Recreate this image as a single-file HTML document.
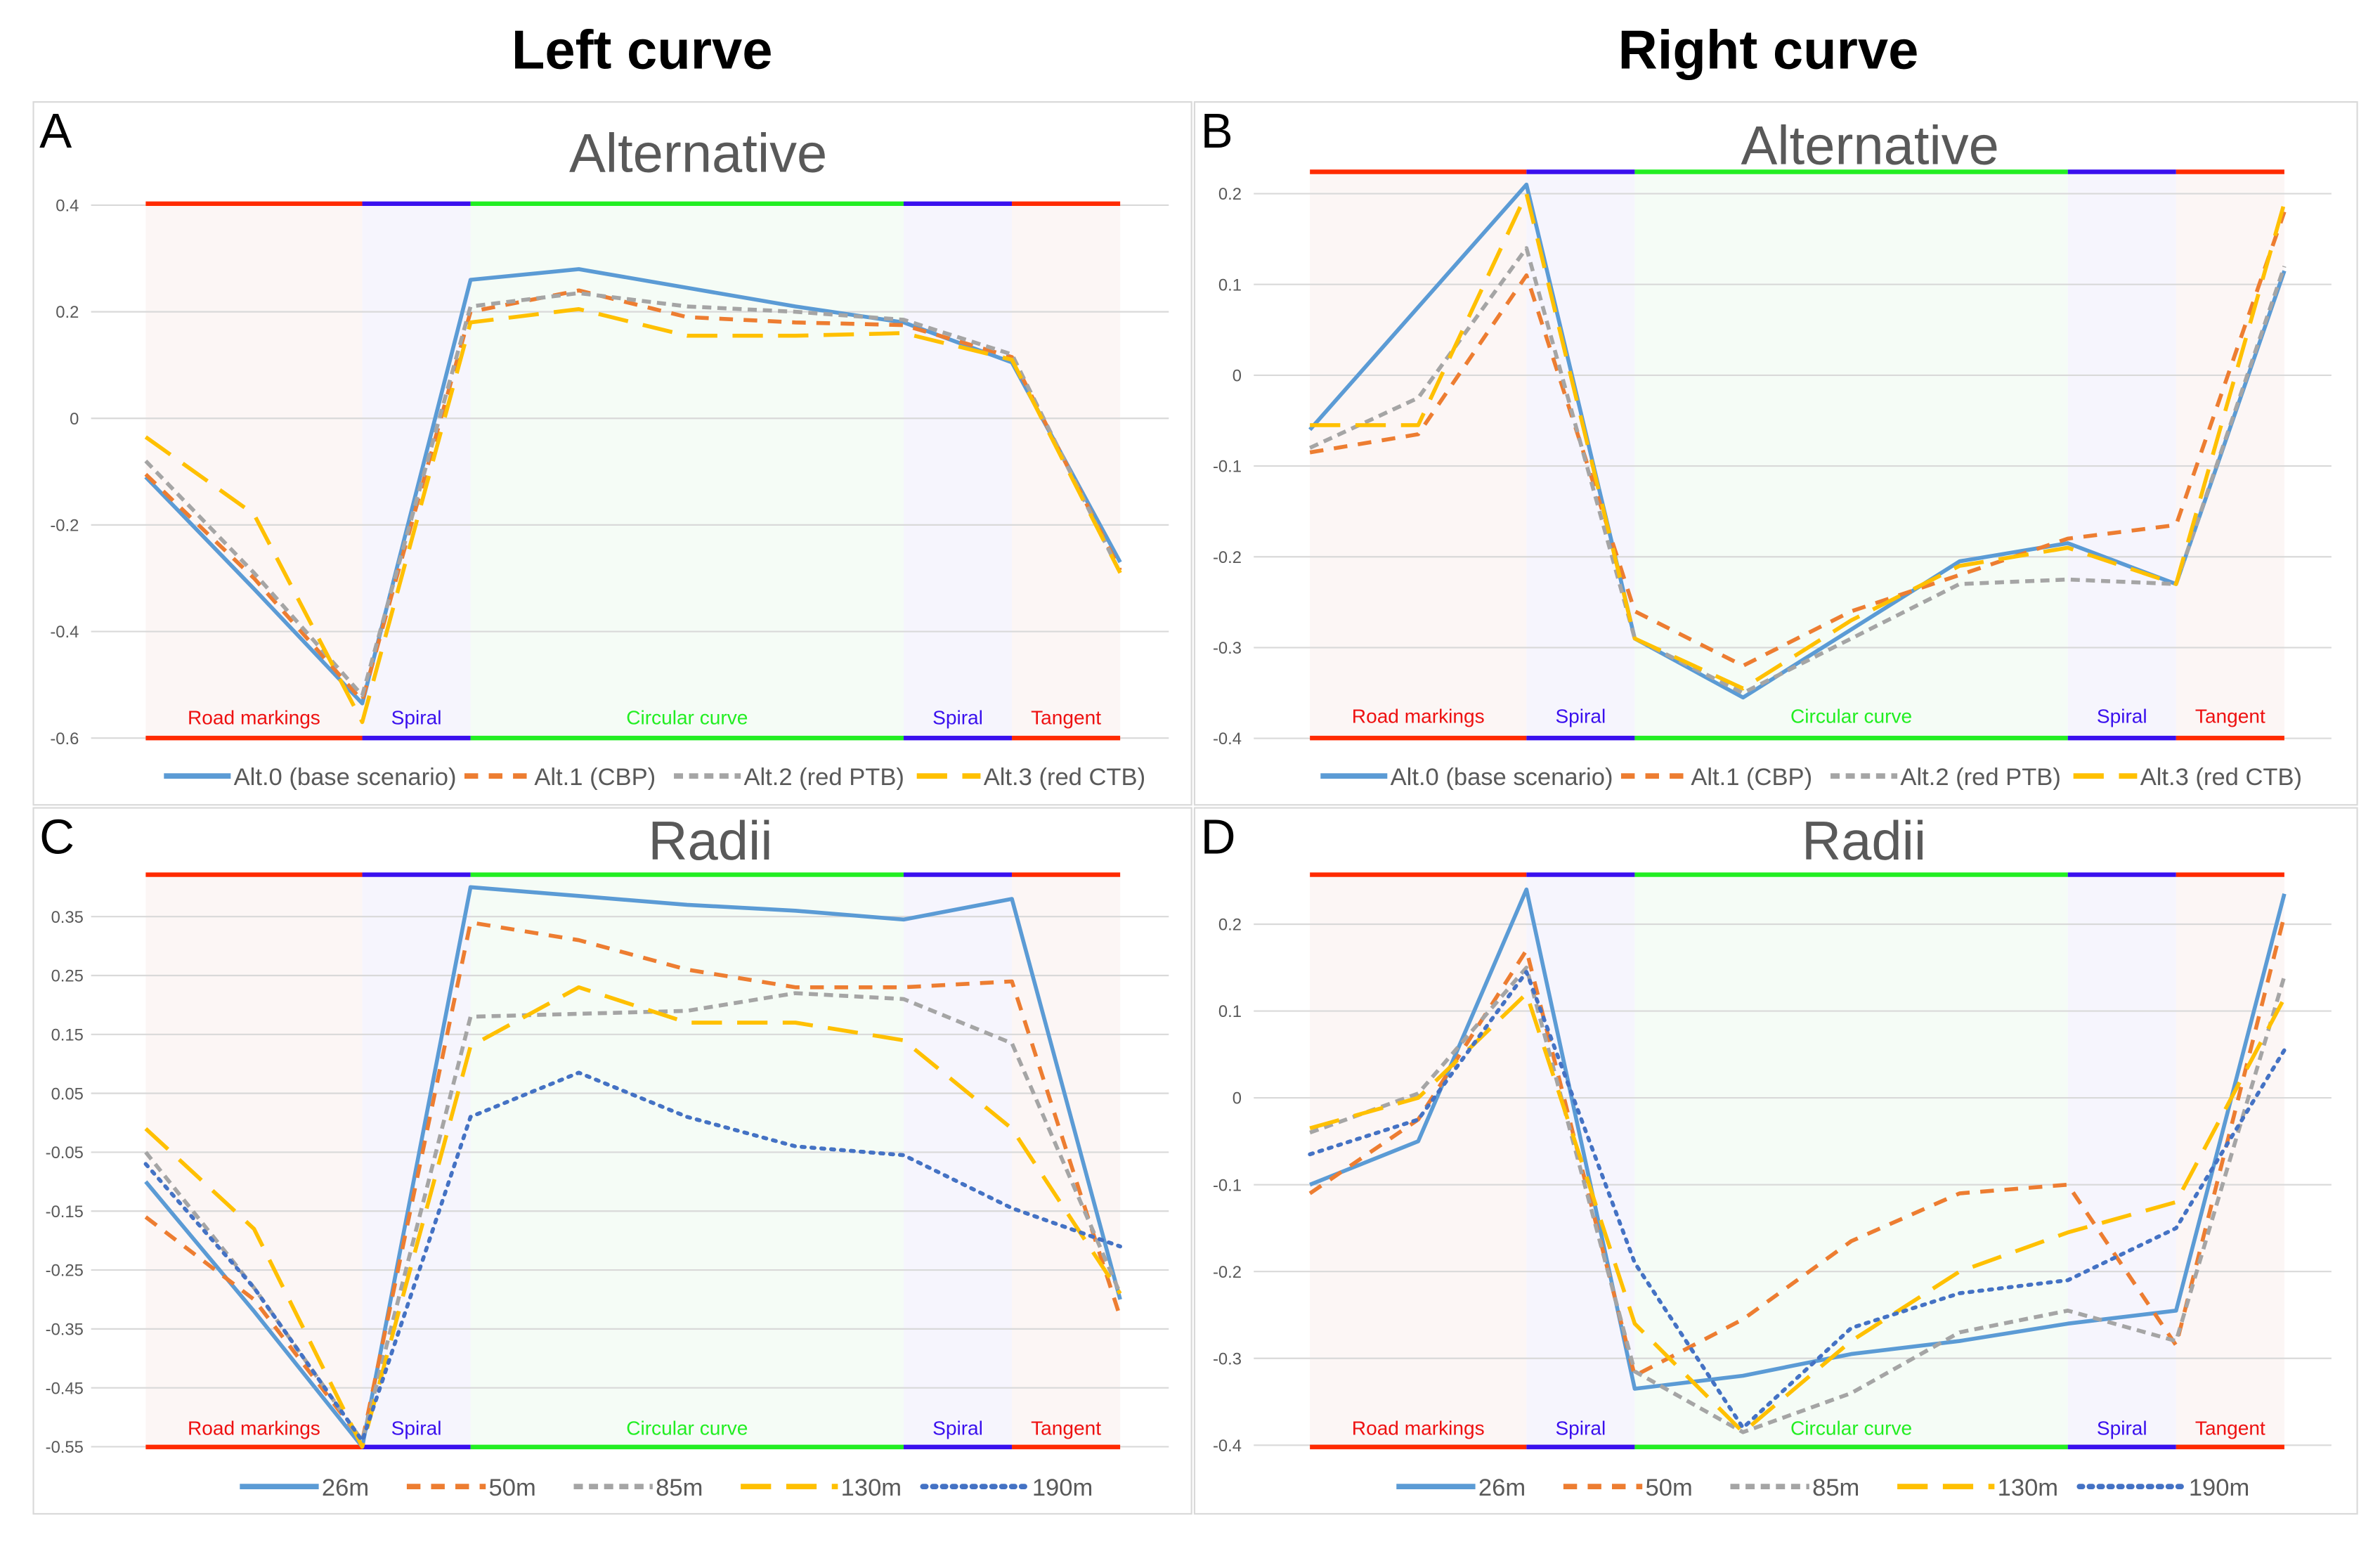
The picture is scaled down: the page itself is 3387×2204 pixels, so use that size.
<!DOCTYPE html>
<html><head><meta charset="utf-8"><style>
html,body{margin:0;padding:0;background:#fff}
svg{display:block}
text{font-family:"Liberation Sans",sans-serif}
</style></head><body>
<svg id="s" width="3387" height="2204" viewBox="0 0 1568 1020" xmlns="http://www.w3.org/2000/svg">
<text x="423" y="45" font-size="36" font-weight="bold" text-anchor="middle">Left curve</text>
<text x="1165" y="45" font-size="36" font-weight="bold" text-anchor="middle">Right curve</text>
</svg>
<script>
const segNames=["Road markings","Spiral","Circular curve","Spiral","Tangent"];
const altNames=["Alt.0 (base scenario)","Alt.1 (CBP)","Alt.2 (red PTB)","Alt.3 (red CTB)"];
const radNames=["26m","50m","85m","130m","190m"];
const ticksA=[0.4,0.2,0,-0.2,-0.4,-0.6];
const ticksB=[0.2,0.1,0,-0.1,-0.2,-0.3,-0.4];
const ticksC=[0.35,0.25,0.15,0.05,-0.05,-0.15,-0.25,-0.35,-0.45,-0.55];
const ticksD=[0.2,0.1,0,-0.1,-0.2,-0.3,-0.4];
const A0=[-0.11,-0.32,-0.535,0.26,0.28,0.245,0.21,0.18,0.105,-0.27];
const A1=[-0.105,-0.30,-0.53,0.20,0.24,0.19,0.18,0.175,0.115,-0.285];
const A2=[-0.08,-0.29,-0.52,0.21,0.235,0.21,0.20,0.185,0.12,-0.29];
const A3=[-0.035,-0.18,-0.57,0.18,0.205,0.155,0.155,0.16,0.11,-0.29];
const B0=[-0.06,0.075,0.21,-0.29,-0.355,-0.28,-0.205,-0.185,-0.23,0.115];
const B1=[-0.085,-0.065,0.11,-0.26,-0.32,-0.26,-0.22,-0.18,-0.165,0.18];
const B2=[-0.08,-0.025,0.14,-0.29,-0.35,-0.29,-0.23,-0.225,-0.23,0.12];
const B3=[-0.055,-0.055,0.20,-0.29,-0.345,-0.27,-0.21,-0.19,-0.23,0.19];
const C0=[-0.10,-0.32,-0.55,0.40,0.385,0.37,0.36,0.345,0.38,-0.30];
const C1=[-0.16,-0.30,-0.54,0.34,0.31,0.26,0.23,0.23,0.24,-0.33];
const C2=[-0.05,-0.28,-0.54,0.18,0.185,0.19,0.22,0.21,0.135,-0.29];
const C3=[-0.01,-0.18,-0.55,0.13,0.23,0.17,0.17,0.14,-0.01,-0.29];
const C4=[-0.07,-0.28,-0.54,0.01,0.085,0.01,-0.04,-0.055,-0.145,-0.21];
const D0=[-0.10,-0.05,0.24,-0.335,-0.32,-0.295,-0.28,-0.26,-0.245,0.235];
const D1=[-0.11,-0.025,0.17,-0.32,-0.255,-0.165,-0.11,-0.10,-0.285,0.21];
const D2=[-0.04,0.005,0.15,-0.315,-0.385,-0.34,-0.27,-0.245,-0.28,0.14];
const D3=[-0.035,0.0,0.12,-0.26,-0.385,-0.28,-0.20,-0.155,-0.12,0.115];
const D4=[-0.065,-0.025,0.145,-0.19,-0.38,-0.265,-0.225,-0.21,-0.15,0.055];

const NS="http://www.w3.org/2000/svg";
const svg=document.getElementById('s');
function mk(tag,attrs,parent,txt){const e=document.createElementNS(NS,tag);for(const k in attrs)e.setAttribute(k,attrs[k]);if(txt!==undefined)e.textContent=txt;(parent||svg).appendChild(e);return e;}
const styles=[
 {c:"#5B9BD5",d:"",w:2.6},
 {c:"#ED7D31",d:"9 7",w:2.6},
 {c:"#A5A5A5",d:"6 4",w:2.6},
 {c:"#FFC000",d:"20 10",w:2.6},
 {c:"#4472C4",d:"2 4.5",w:2.6}
];
function panel(o){
 const g=mk('g',{});
 
 
 const fr=mk('rect',{x:o.bx,y:o.by,width:o.bw,height:o.bh,fill:"#fff",stroke:"#d9d9d9","stroke-width":1},g);
 
 
 const x0=o.x0,dx=(o.x1-o.x0)/9;
 const X=i=>x0+dx*i;
 const Y=v=>o.yz-v*o.k;
 const bounds=[0,2,3,7,8,9];
 const bg=["#fcf6f5","#f6f5fd","#f5fcf6","#f6f5fd","#fcf6f5"];
 const bar=["#ff2a00","#3a10ee","#22ee22","#3a10ee","#ff2a00"];
 const lc=["#ee1111","#3a10ee","#22ee22","#3a10ee","#ee1111"];
 for(let s=0;s<5;s++){
  const xa=X(bounds[s]),xb=X(bounds[s+1]);
  const r=mk('rect',{x:xa,y:o.top,width:xb-xa,height:o.bot-o.top,fill:bg[s]},g);
  
  
 }
 o.ticks.forEach(t=>{
  const y=Y(t);
  const l=mk('line',{x1:o.gx,x2:o.gx2,y1:y,y2:y,stroke:"#d9d9d9","stroke-width":1},g);
  
  
  const tx=mk('text',{x:o.tx,y:y+4,"font-size":11,fill:"#595959","text-anchor":"end"},g,String(t));
  
  
 });
 for(let s=0;s<5;s++){
  const xa=X(bounds[s]),xb=X(bounds[s+1]);
  [o.top,o.bot].forEach(yy=>{
   const b=mk('line',{x1:xa,x2:xb,y1:yy,y2:yy,stroke:bar[s],"stroke-width":3},g);
   
   
  });
  const lt=mk('text',{x:(xa+xb)/2,y:o.ly,"font-size":13,fill:lc[s],"text-anchor":"middle"},g,segNames[s]);
  
  
 }
 o.series.forEach((arr,si)=>{
  const st=styles[o.styleIdx[si]];
  const p=mk('polyline',{points:arr.map((v,i)=>X(i)+","+Y(v)).join(" "),fill:"none",stroke:st.c,"stroke-width":st.w,"stroke-dasharray":st.d,"stroke-linecap":st.d.startsWith("2 ")?"round":"butt","stroke-linejoin":"round"},g);
  
  
 });
 const tt=mk('text',{x:o.ttx,y:o.tty,"font-size":36,fill:"#595959","text-anchor":"middle"},g,o.title);
 
 
 const pl=mk('text',{x:o.bx+4,y:o.by+30,"font-size":32,fill:"#000"},g,o.letter);
 
 
 o.legend.forEach((it,i)=>{
  const st=styles[o.styleIdx[i]];
  const ls=mk('line',{x1:it[0],x2:it[0]+it[1],y1:o.legy,y2:o.legy,stroke:st.c,"stroke-width":3.6,"stroke-dasharray":st.d,"stroke-linecap":st.d.startsWith("2 ")?"round":"butt"},g);
  
  
  const lt=mk('text',{x:it[0]+it[1]+2,y:o.legy+6,"font-size":16,fill:"#595959"},g,o.names[i]);
  
  
 });
}
panel({name:'panel-a',letter:'A',title:'Alternative',bx:22,by:67,bw:763,bh:463,x0:96,x1:738,yz:275.4,k:351,top:134,bot:486,gx:60,gx2:770,tx:52,ly:477,ttx:460,tty:113,ticks:ticksA,series:[A0,A1,A2,A3],styleIdx:[0,1,2,3],names:altNames,legy:511,
 legend:[[108,44],[306,44],[444,44],[604,42]]});
panel({name:'panel-b',letter:'B',title:'Alternative',bx:787,by:67,bw:766,bh:463,x0:863,x1:1505,yz:247,k:598,top:113,bot:486,gx:826,gx2:1536,tx:818,ly:476,ttx:1232,tty:108,ticks:ticksB,series:[B0,B1,B2,B3],styleIdx:[0,1,2,3],names:altNames,legy:511,
 legend:[[870,44],[1068,44],[1206,44],[1366,42]]});
panel({name:'panel-c',letter:'C',title:'Radii',bx:22,by:532,bw:763,bh:465,x0:96,x1:738,yz:739.4,k:388,top:576,bot:953,gx:60,gx2:770,tx:55,ly:945,ttx:468,tty:566,ticks:ticksC,series:[C0,C1,C2,C3,C4],styleIdx:[0,1,2,3,4],names:radNames,legy:979,
 legend:[[158,52],[268,52],[378,52],[488,64],[608,70]]});
panel({name:'panel-d',letter:'D',title:'Radii',bx:787,by:532,bw:766,bh:465,x0:863,x1:1505,yz:723,k:572,top:576,bot:953,gx:826,gx2:1536,tx:818,ly:945,ttx:1228,tty:566,ticks:ticksD,series:[D0,D1,D2,D3,D4],styleIdx:[0,1,2,3,4],names:radNames,legy:979,
 legend:[[920,52],[1030,52],[1140,52],[1250,64],[1370,70]]});
</script>
</body></html>
